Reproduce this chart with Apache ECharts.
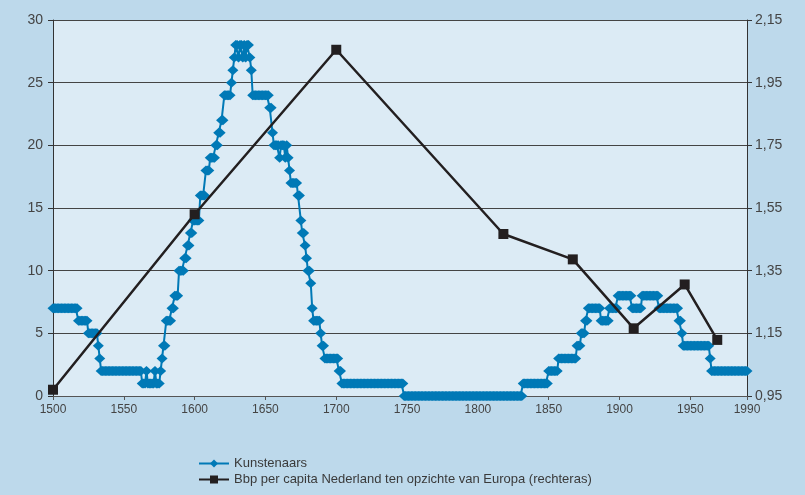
<!DOCTYPE html>
<html><head><meta charset="utf-8">
<script src="https://cdn.jsdelivr.net/npm/echarts@6/dist/echarts.min.js"></script>
<style>html,body{margin:0;padding:0;background:#bdd9eb}#c{width:805px;height:495px}</style>
</head><body><div id="c"></div>
<script>
// Kunstenaars: yearly values, starting 1500
const startYear = 1500;
const kunst1500 = [7,7,7,7,7,7,7,7,7,7,7,7,7,7,7,7,7,7, 6,6,6,6,6,6,6, 5,5,5,5,5,5,5, 4, 3, 2,2,2,2,2,2,2,2,2,2,2,2,2,2,2,2];
const kunst1550 = [2,2,2,2,2,2,2,2,2,2,2,2,2, 1,1,1,2,1,1,1,1,1,2,1,1,1, 2,3,4,4,6,6,6,6,7,7,8,8,8, 10,10,10,10,11,11,12,12,13,13,14];
const kunst1600 = [14,14,14,14, 16,16,16,16, 18,18,18, 19,19,19,19, 20,20, 21,21, 22,22, 24,24,24,24,24, 25,26,27, 28,28,27,28,28,27,28,27,28,28,27, 26, 24,24,24,24,24,24,24,24,24];
const kunst1650 = [24,24,24, 23,23, 21, 20,20,20,20, 19,20,20,20,19,20,19, 18, 17,17,17,17,17, 16,16, 14, 13,13, 12,11,10,10,9,7, 6,6,6,6,6, 5,4,4, 3,3,3,3,3,3,3,3];
const kunst1700 = [3,3, 2,2, 1,1,1,1,1,1,1,1,1,1,1,1,1,1,1,1,1,1,1,1,1,1,1,1,1,1,1,1,1,1,1,1,1,1,1,1,1,1,1,1,1,1,1,1, 0,0];
const kunst1750 = [0,0,0,0,0,0,0,0,0,0,0,0,0,0,0,0,0,0,0,0,0,0,0,0,0,0,0,0,0,0,0,0,0,0,0,0,0,0,0,0,0,0,0,0,0,0,0,0,0,0];
const kunst1800 = [0,0,0,0,0,0,0,0,0,0,0,0,0,0,0,0,0,0,0,0,0,0,0,0,0,0,0,0,0,0,0,0, 1,1,1,1,1,1,1,1,1,1,1,1,1,1,1,1,1,1];
const kunst1850 = [2,2,2,2,2,2,2, 3,3,3,3,3,3,3,3,3,3,3,3,3, 4,4,4, 5,5,5, 6,6, 7,7,7,7,7,7,7,7,7, 6,6,6,6,6,6, 7,7,7,7,7,7, 8];
const kunst1900 = [8,8,8,8,8,8,8,8,8, 7,7,7,7,7,7,7, 8,8,8,8,8,8,8,8,8,8,8,8, 7,7,7,7,7,7,7,7,7,7,7,7,7,7, 6,6, 5, 4,4,4,4,4];
const kunst1950 = [4,4,4,4,4,4,4,4,4,4,4,4,4,4, 3, 2,2,2,2,2,2,2,2,2,2,2,2,2,2,2,2,2,2,2,2,2,2,2,2,2,2];

// Bbp per capita Nederland t.o.v. Europa
const gdpYears = [1500, 1600, 1700, 1818, 1867, 1910, 1946, 1969];
const gdpValues = [0.97, 1.53, 2.055, 1.467, 1.386, 1.166, 1.306, 1.129];

const seriesNames = ['Kunstenaars', 'Bbp per capita Nederland ten opzichte van Europa (rechteras)'];

const kunstValues = [].concat(kunst1500, kunst1550, kunst1600, kunst1650, kunst1700, kunst1750, kunst1800, kunst1850, kunst1900, kunst1950);
const kunstData = kunstValues.map((v, i) => [startYear + i, v]);
const gdpData = gdpYears.map((y, i) => [y, gdpValues[i]]);

const FONT = '"Liberation Sans", Arial, sans-serif';
const chart = echarts.init(document.getElementById('c'), null, {renderer: 'canvas'});
chart.setOption({
  animation: false,
  backgroundColor: '#bdd9eb',
  textStyle: {fontFamily: FONT},
  grid: {left: 53, right: 58, top: 20, bottom: 99, show: true, backgroundColor: '#dcebf5', borderWidth: 0},
  legend: {
    orient: 'vertical', left: 193, top: 452, itemGap: 3, itemWidth: 30, itemHeight: 10,
    textStyle: {fontFamily: FONT, fontSize: 13, color: '#3a3a3a'},
    data: seriesNames
  },
  xAxis: {
    type: 'value', min: 1500, max: 1990, interval: 50,
    axisLine: {show: true, onZero: false, lineStyle: {color: '#555', width: 1}},
    axisTick: {show: true, length: 4, lineStyle: {color: '#555'}},
    axisLabel: {color: '#444', fontSize: 12, margin: 8, showMaxLabel: true, fontFamily: FONT,
      formatter: v => String(v)},
    splitLine: {show: false}
  },
  yAxis: [{
    type: 'value', min: 0, max: 30, interval: 5, position: 'left',
    axisLine: {show: true, lineStyle: {color: '#333', width: 1}},
    axisTick: {show: true, length: 5, lineStyle: {color: '#333'}},
    axisLabel: {color: '#444', fontSize: 14, margin: 10, fontFamily: FONT},
    splitLine: {show: true, lineStyle: {color: '#444', width: 1}}
  }, {
    type: 'value', min: 0.95, max: 2.15, alignTicks: true, position: 'right',
    axisLine: {show: true, lineStyle: {color: '#333', width: 1}},
    axisTick: {show: true, length: 5, lineStyle: {color: '#333'}},
    axisLabel: {color: '#444', fontSize: 14, margin: 8, fontFamily: FONT,
      formatter: v => v.toFixed(2).replace('.', ',')},
    splitLine: {show: false}
  }],
  series: [{
    name: seriesNames[0], type: 'line', yAxisIndex: 0, data: kunstData,
    symbol: 'diamond', symbolSize: [11, 10], showSymbol: true, showAllSymbol: true,
    lineStyle: {color: '#0079b6', width: 2}, itemStyle: {color: '#0079b6'},
    z: 2
  }, {
    name: seriesNames[1], type: 'line', yAxisIndex: 1, data: gdpData,
    symbol: 'rect', symbolSize: 10,
    lineStyle: {color: '#231f20', width: 2.5}, itemStyle: {color: '#231f20'},
    z: 3
  }]
});
</script></body></html>
